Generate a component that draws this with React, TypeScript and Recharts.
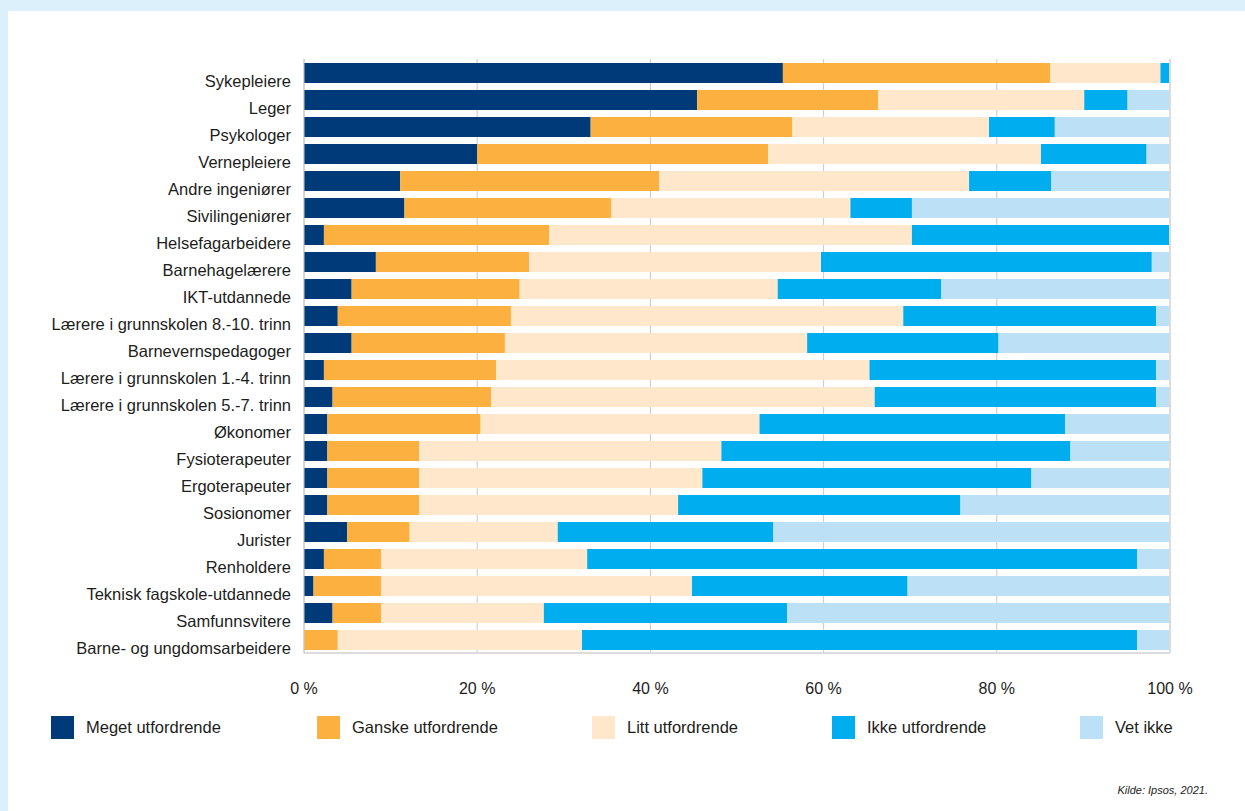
import React from "react";
import { BarChart, Bar, XAxis, YAxis, CartesianGrid } from "recharts";

const categories = [
  "Sykepleiere",
  "Leger",
  "Psykologer",
  "Vernepleiere",
  "Andre ingeniører",
  "Sivilingeniører",
  "Helsefagarbeidere",
  "Barnehagelærere",
  "IKT-utdannede",
  "Lærere i grunnskolen 8.-10. trinn",
  "Barnevernspedagoger",
  "Lærere i grunnskolen 1.-4. trinn",
  "Lærere i grunnskolen 5.-7. trinn",
  "Økonomer",
  "Fysioterapeuter",
  "Ergoterapeuter",
  "Sosionomer",
  "Jurister",
  "Renholdere",
  "Teknisk fagskole-utdannede",
  "Samfunnsvitere",
  "Barne- og ungdomsarbeidere",
];

const meget = [55.3, 45.4, 33.1, 20.0, 11.1, 11.6, 2.3, 8.3, 5.5, 3.9, 5.5, 2.3, 3.3, 2.7, 2.7, 2.7, 2.7, 5.0, 2.3, 1.1, 3.3, 0];
const ganske = [30.9, 20.9, 23.3, 33.6, 29.9, 23.9, 26.0, 17.7, 19.4, 20.0, 17.7, 19.9, 18.3, 17.7, 10.6, 10.6, 10.6, 7.2, 6.6, 7.8, 5.6, 3.9];
const litt = [12.7, 23.8, 22.7, 31.5, 35.8, 27.6, 41.9, 33.7, 29.8, 45.3, 34.9, 43.1, 44.3, 32.2, 34.9, 32.7, 29.9, 17.1, 23.8, 35.9, 18.8, 28.2];
const ikke = [1.1, 5.0, 7.6, 12.2, 9.5, 7.1, 29.8, 38.2, 18.9, 29.2, 22.1, 33.1, 32.5, 35.3, 40.3, 38.0, 32.6, 24.9, 63.5, 24.9, 28.1, 64.1];
const vetIkke = [0, 4.9, 13.3, 2.7, 13.7, 29.8, 0, 2.1, 26.4, 1.6, 19.8, 1.6, 1.6, 12.1, 11.5, 16.0, 24.2, 45.8, 3.8, 30.3, 44.2, 3.8];

const xTicks = [0, 20, 40, 60, 80, 100];

const series = [
  { key: "meget", name: "Meget utfordrende", color: "#003A78" },
  { key: "ganske", name: "Ganske utfordrende", color: "#FBB040" },
  { key: "litt", name: "Litt utfordrende", color: "#FEE7CA" },
  { key: "ikke", name: "Ikke utfordrende", color: "#00ADEE" },
  { key: "vetIkke", name: "Vet ikke", color: "#BCE0F6" },
];

const legendLeft = [51, 317, 592, 832, 1080];

const data = categories.map((name, i) => ({
  name,
  meget: meget[i],
  ganske: ganske[i],
  litt: litt[i],
  ikke: ikke[i],
  vetIkke: vetIkke[i],
}));

const FONT = '"Liberation Sans", Arial, Helvetica, sans-serif';

function CategoryTick(props: any) {
  const { x, y, payload } = props;
  return (
    <text x={x - 5} y={y + 14} textAnchor="end" fontSize={16.5} fill="#1d1d1b" fontFamily={FONT}>
      {payload.value}
    </text>
  );
}

function PercentTick(props: any) {
  const { x, y, payload } = props;
  return (
    <text x={x} y={y + 33} textAnchor="middle" fontSize={16} fill="#1d1d1b" fontFamily={FONT}>
      {`${payload.value} %`}
    </text>
  );
}

export default function App() {
  return (
    <div
      style={{
        position: "absolute",
        left: 0,
        top: 0,
        width: 1245,
        height: 811,
        background: "#DCF0FB",
        overflow: "hidden",
        fontFamily: FONT,
      }}
    >
      <div style={{ position: "absolute", left: 8, top: 11, right: 0, bottom: 0, background: "#ffffff" }} />
      <div style={{ position: "absolute", left: 0, top: 0 }}>
        <BarChart
          width={1245}
          height={811}
          data={data}
          layout="vertical"
          barSize={20}
          margin={{ top: 59, right: 75, left: 14, bottom: 118 }}
        >
          <CartesianGrid horizontal={false} vertical={true} stroke="#c8c8c8" />
          <XAxis
            type="number"
            domain={[0, 100]}
            ticks={xTicks}
            height={40}
            tickLine={false}
            axisLine={{ stroke: "#dcdcdc", strokeWidth: 2 }}
            tick={<PercentTick />}
            interval={0}
          />
          <YAxis
            type="category"
            dataKey="name"
            width={290}
            tickLine={false}
            axisLine={{ stroke: "#c8c8c8" }}
            tick={<CategoryTick />}
            interval={0}
          />
          {series.map((s) => (
            <Bar key={s.key} dataKey={s.key} name={s.name} stackId="a" fill={s.color} isAnimationActive={false} />
          ))}
        </BarChart>
      </div>
      <div style={{ position: "absolute", left: 1169, top: 59, width: 2, height: 594, background: "#dcdcdc" }} />
      {series.map((s, i) => (
        <div key={s.key} style={{ position: "absolute", left: legendLeft[i], top: 716, display: "flex", alignItems: "center" }}>
          <div style={{ width: 23, height: 23, background: s.color }} />
          <span style={{ marginLeft: 12, fontSize: 16.5, color: "#1d1d1b", whiteSpace: "nowrap" }}>{s.name}</span>
        </div>
      ))}
      <div
        style={{
          position: "absolute",
          right: 37,
          top: 784,
          fontSize: 11,
          fontStyle: "italic",
          color: "#1d1d1b",
        }}
      >
        Kilde: Ipsos, 2021.
      </div>
    </div>
  );
}
